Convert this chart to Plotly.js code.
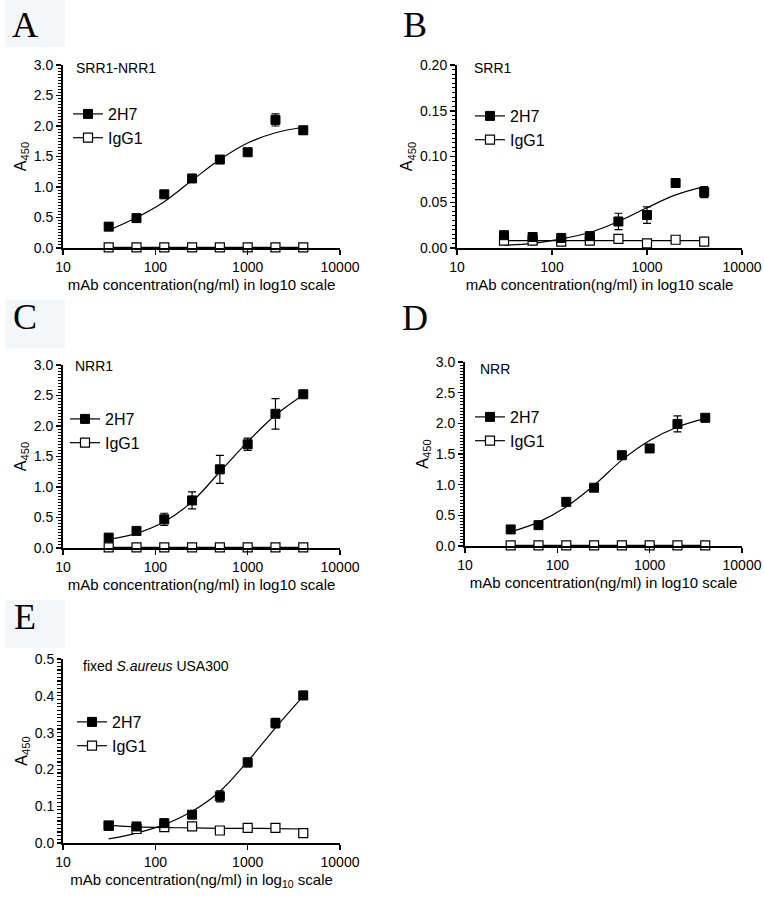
<!DOCTYPE html>
<html>
<head>
<meta charset="utf-8">
<script src="https://cdn.plot.ly/plotly-3.0.1.min.js"></script>
<style>
  html, body { margin: 0; padding: 0; background: #fff; }
  #chart { width: 764px; height: 899px; }
</style>
</head>
<body>
<div id="chart"></div>
<script>
// antibody concentration (ng/ml)
var conc = [31.25, 62.5, 125, 250, 500, 1000, 2000, 4000];

// A: SRR1-NRR1
var a2H7 = [0.35, 0.49, 0.88, 1.14, 1.45, 1.57, 2.10, 1.93];
var a2H7Err = [0.03, 0.02, 0.03, 0.03, 0.03, 0.02, 0.10, 0.06];
var aIgG1 = [0.01, 0.01, 0.01, 0.01, 0.01, 0.01, 0.01, 0.01];
var aFit2H7 = [0.29, 0.50, 0.76, 1.11, 1.45, 1.72, 1.89, 1.98];
var aFitIgG1 = [0.01, 0.01, 0.01, 0.01, 0.01, 0.01, 0.01, 0.01];

// B: SRR1
var b2H7 = [0.014, 0.012, 0.011, 0.013, 0.029, 0.036, 0.071, 0.061];
var b2H7Err = [0.002, 0.002, 0.002, 0.002, 0.009, 0.009, 0.002, 0.006];
var bIgG1 = [0.008, 0.008, 0.007, 0.008, 0.010, 0.005, 0.009, 0.007];
var bFit2H7 = [0.003, 0.005, 0.010, 0.017, 0.029, 0.044, 0.058, 0.067];
var bFitIgG1 = [0.008, 0.008, 0.008, 0.008, 0.008, 0.008, 0.008, 0.008];

// C: NRR1
var c2H7 = [0.17, 0.28, 0.47, 0.78, 1.29, 1.70, 2.20, 2.52];
var c2H7Err = [0.03, 0.04, 0.10, 0.14, 0.23, 0.10, 0.25, 0.04];
var cIgG1 = [0.01, 0.01, 0.01, 0.01, 0.01, 0.01, 0.01, 0.01];
var cFit2H7 = [0.14, 0.24, 0.43, 0.76, 1.25, 1.74, 2.18, 2.51];
var cFitIgG1 = [0.01, 0.01, 0.01, 0.01, 0.01, 0.01, 0.01, 0.01];

// D: NRR
var d2H7 = [0.27, 0.34, 0.72, 0.95, 1.48, 1.59, 1.99, 2.09];
var d2H7Err = [0.03, 0.03, 0.06, 0.03, 0.03, 0.03, 0.13, 0.04];
var dIgG1 = [0.01, 0.01, 0.01, 0.01, 0.01, 0.01, 0.01, 0.01];
var dFit2H7 = [0.23, 0.39, 0.64, 0.99, 1.40, 1.72, 1.94, 2.08];
var dFitIgG1 = [0.01, 0.01, 0.01, 0.01, 0.01, 0.01, 0.01, 0.01];

// E: fixed S.aureus USA300
var e2H7 = [0.047, 0.045, 0.054, 0.077, 0.127, 0.219, 0.326, 0.401];
var e2H7Err = [0.004, 0.004, 0.004, 0.004, 0.015, 0.012, 0.013, 0.011];
var eIgG1 = [0.047, 0.038, 0.043, 0.045, 0.034, 0.041, 0.041, 0.027];
var eFit2H7 = [0.011, 0.027, 0.050, 0.086, 0.140, 0.222, 0.313, 0.399];
var eFitIgG1 = [0.048, 0.044, 0.042, 0.041, 0.040, 0.040, 0.039, 0.038];

var W = 764, H = 899;
function px(x) { return x / W; }
function py(y) { return 1 - y / H; }

var font = 'Liberation Sans, Arial, sans-serif';
var filled = { symbol: 'square', size: 9, color: '#000', line: { color: '#000', width: 1 } };
var open = { symbol: 'square', size: 9, color: '#fff', line: { color: '#000', width: 1.2 } };

var panels = [
  { id: '', leg: 'legend', p2H7: a2H7, err: a2H7Err, pIgG1: aIgG1, f2H7: aFit2H7, fIgG1: aFitIgG1 },
  { id: '2', leg: 'legend2', p2H7: b2H7, err: b2H7Err, pIgG1: bIgG1, f2H7: bFit2H7, fIgG1: bFitIgG1 },
  { id: '3', leg: 'legend3', p2H7: c2H7, err: c2H7Err, pIgG1: cIgG1, f2H7: cFit2H7, fIgG1: cFitIgG1 },
  { id: '4', leg: 'legend4', p2H7: d2H7, err: d2H7Err, pIgG1: dIgG1, f2H7: dFit2H7, fIgG1: dFitIgG1 },
  { id: '5', leg: 'legend5', p2H7: e2H7, err: e2H7Err, pIgG1: eIgG1, f2H7: eFit2H7, fIgG1: eFitIgG1 }
];

var data = [];
panels.forEach(function (p) {
  var xa = 'x' + p.id, ya = 'y' + p.id;
  // fitted curves; they carry the legend entry, their own markers are hidden
  data.push({
    x: conc, y: p.fIgG1, xaxis: xa, yaxis: ya, legend: p.leg,
    name: 'IgG1', mode: 'lines+markers', line: { color: '#000', width: 1.2, shape: 'spline' },
    marker: open, selectedpoints: [], unselected: { marker: { opacity: 0 } },
    cliponaxis: false, hoverinfo: 'skip'
  });
  data.push({
    x: conc, y: p.f2H7, xaxis: xa, yaxis: ya, legend: p.leg,
    name: '2H7', mode: 'lines+markers', line: { color: '#000', width: 1.2, shape: 'spline' },
    marker: filled, selectedpoints: [], unselected: { marker: { opacity: 0 } },
    cliponaxis: false, hoverinfo: 'skip'
  });
  // measured points
  data.push({
    x: conc, y: p.pIgG1, xaxis: xa, yaxis: ya, showlegend: false,
    mode: 'markers', marker: open, cliponaxis: false
  });
  data.push({
    x: conc, y: p.p2H7, xaxis: xa, yaxis: ya, showlegend: false,
    mode: 'markers', marker: filled, cliponaxis: false,
    error_y: { type: 'data', array: p.err, visible: true, color: '#000', thickness: 1.2, width: 4 }
  });
});

function xAxis(anchor, x0, x1, titleText) {
  return {
    type: 'log', range: [1, 4], domain: [px(x0), px(x1)], anchor: anchor,
    tickvals: [10, 100, 1000, 10000], ticktext: ['10', '100', '1000', '10000'],
    ticks: 'outside', ticklen: 5, tickwidth: 1.5, tickcolor: '#000',
    showline: true, linewidth: 2, linecolor: '#000', showgrid: false, zeroline: false,
    tickfont: { size: 14, color: '#000' }, automargin: false,
    title: { text: titleText, font: { size: 15, color: '#000' }, standoff: 6 }
  };
}
// minor tick positions: n equal steps from 0 to top
function steps(top, n) {
  var v = [];
  for (var i = 0; i <= n; i++) v.push(+(top * i / n).toFixed(6));
  return v;
}
function yAxis(anchor, y0, y1, top, dtick, nMinor, fmt) {
  return {
    range: [0, top], domain: [py(y1), py(y0)], anchor: anchor,
    dtick: dtick, tick0: 0, tickformat: fmt,
    ticks: 'outside', ticklen: 5, tickwidth: 1.5, tickcolor: '#000',
    minor: { tickmode: 'array', tickvals: steps(top, nMinor), ticks: 'outside',
      ticklen: 3, tickwidth: 1, tickcolor: '#000', showgrid: false },
    showline: true, linewidth: 2, linecolor: '#000', showgrid: false, zeroline: false,
    tickfont: { size: 14, color: '#000' }, automargin: false,
    title: { text: 'A<sub>450</sub>', font: { size: 16, color: '#000' }, standoff: 3 }
  };
}
// panel E: its minor ticks are not drawn by plotly, so all ticks go in one array
function yAxisE(anchor, y0, y1, top, nAll, every) {
  var ax = yAxis(anchor, y0, y1, top, 0.1, nAll, '.1f');
  delete ax.minor;
  ax.tickmode = 'array';
  ax.tickvals = steps(top, nAll);
  ax.ticktext = ax.tickvals.map(function (v, i) { return i % every === 0 ? v.toFixed(1) : ''; });
  ax.ticklen = 4;
  ax.tickwidth = 1.2;
  return ax;
}

var xTitle = 'mAb concentration(ng/ml) in log10 scale';
var xTitleE = 'mAb concentration(ng/ml) in log<sub>10</sub> scale';

function legendAt(x, y) {
  return {
    x: px(x), y: py(y), xanchor: 'left', yanchor: 'top',
    bgcolor: 'rgba(0,0,0,0)', borderwidth: 0, itemwidth: 30, tracegroupgap: 0,
    traceorder: 'reversed', font: { size: 16, color: '#000' }
  };
}

function letter(t, x, y) {
  return { text: t, x: px(x), y: py(y), xref: 'paper', yref: 'paper', showarrow: false,
    xanchor: 'center', yanchor: 'middle', font: { family: 'Liberation Serif, Times New Roman, serif', size: 36, color: '#000' } };
}
function label(t, x, y) {
  return { text: t, x: px(x), y: py(y), xref: 'paper', yref: 'paper', showarrow: false,
    xanchor: 'left', yanchor: 'middle', font: { size: 14, color: '#000' } };
}
function box(x0, y0, x1, y1) {
  return { type: 'rect', xref: 'paper', yref: 'paper', x0: px(x0), x1: px(x1), y0: py(y1), y1: py(y0),
    fillcolor: '#f3f7fa', line: { width: 0 }, layer: 'below' };
}

var layout = {
  width: W, height: H,
  margin: { l: 0, r: 0, t: 0, b: 0 },
  paper_bgcolor: '#fff', plot_bgcolor: 'rgba(0,0,0,0)',
  font: { family: font, color: '#000' },
  xaxis: xAxis('y', 63, 340, xTitle),
  yaxis: yAxis('x', 65, 248, 3, 0.5, 60, '.1f'),
  xaxis2: xAxis('y2', 457, 742, xTitle),
  yaxis2: yAxis('x2', 65, 248, 0.2, 0.05, 40, '.2f'),
  xaxis3: xAxis('y3', 63, 340, xTitle),
  yaxis3: yAxis('x3', 365, 548, 3, 0.5, 60, '.1f'),
  xaxis4: xAxis('y4', 465, 742, xTitle),
  yaxis4: yAxis('x4', 362, 546, 3, 0.5, 60, '.1f'),
  xaxis5: xAxis('y5', 63, 340, xTitleE),
  yaxis5: yAxisE('x5', 659, 843, 0.5, 50, 10),
  legend: legendAt(68, 97),
  legend2: legendAt(470, 99),
  legend3: legendAt(65, 402),
  legend4: legendAt(470, 400),
  legend5: legendAt(72, 705),
  shapes: [box(5, 0, 65, 47), box(5, 300, 65, 348), box(5, 600, 65, 648)],
  annotations: [
    letter('A', 25, 25), letter('B', 415, 25), letter('C', 25, 317),
    letter('D', 415, 318), letter('E', 25, 617),
    label('SRR1-NRR1', 74, 68), label('SRR1', 472, 68), label('NRR1', 73, 366),
    label('NRR', 478, 369), label('fixed <i>S.aureus</i> USA300', 81, 666)
  ]
};

Plotly.newPlot('chart', data, layout, { staticPlot: true });
</script>
</body>
</html>
